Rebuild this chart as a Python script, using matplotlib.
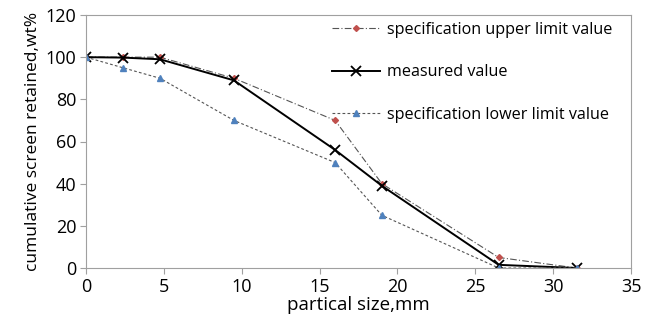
import matplotlib.pyplot as plt

sizes = [0, 2.36, 4.75, 9.5, 16, 19, 26.5, 31.5]
upper = [100, 100, 100, 90, 70, 40, 5, 0]
measured = [100, 99.8, 99, 89, 56, 39, 1.5, 0]
lower = [100, 95, 90, 70, 50, 25, 0, 0]

plt.rcParams['font.family'] = ['Open Sans', 'DejaVu Sans']

fig = plt.figure(figsize=(6.51, 3.25), dpi=100)
ax = fig.add_axes([86 / 651, 57 / 325, 545 / 651, 253 / 325])

ax.plot(sizes, upper, color='#555555', lw=0.8, dashes=[6, 2, 1, 2],
        marker='D', markersize=3, markerfacecolor='#c0504d', markeredgecolor='#c0504d',
        label='specification upper limit value')
ax.plot(sizes, measured, color='black', lw=1.4, marker='x', markersize=7,
        markeredgewidth=1.3, label='measured value')
ax.plot(sizes, lower, color='#555555', lw=0.8, dashes=[2.5, 2],
        marker='^', markersize=4.5, markerfacecolor='#4f81bd', markeredgecolor='#4f81bd',
        label='specification lower limit value')

ax.set_xlim(0, 35)
ax.set_ylim(0, 120)
ax.set_xticks(range(0, 36, 5))
ax.set_yticks(range(0, 121, 20))
for s in ax.spines.values():
    s.set_color('#a0a0a0')
ax.tick_params(direction='out', length=4, color='#a0a0a0', labelsize=13, pad=3)
ax.set_xlabel('partical size,mm', fontsize=13.5, labelpad=0)
ax.set_ylabel('cumulative screen retained,wt%', fontsize=12.5, labelpad=3)

ax.legend(loc='upper left', bbox_to_anchor=(0.425, 1.03), frameon=False, fontsize=11.6,
          labelspacing=1.65, handlelength=3, handletextpad=0.4)

fig.savefig('out.png')
